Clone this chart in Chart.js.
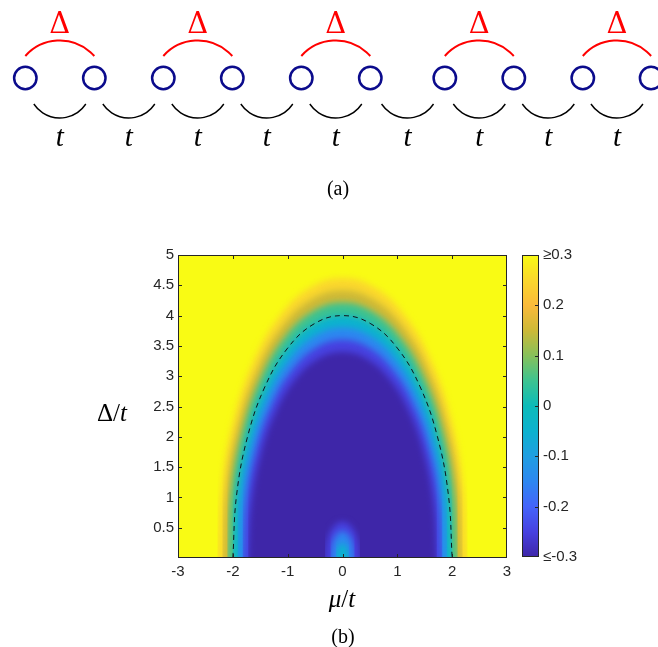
<!DOCTYPE html>
<html>
<head>
<meta charset="utf-8">
<script src="https://cdn.jsdelivr.net/npm/chart.js@4.4.1/dist/chart.umd.min.js"></script>
<style>
  html, body { margin: 0; padding: 0; background: #fff; }
  body { width: 658px; height: 647px; position: relative; overflow: hidden; }
  canvas { position: absolute; }
  .lbl { position: absolute; transform: translate(-50%, -50%); font-family: "Liberation Serif", "DejaVu Serif", serif; line-height: 1; white-space: nowrap; color: #000; }
</style>
</head>
<body>
<canvas id="chain" width="658" height="178" style="left:0;top:0"></canvas>
<div class="lbl" style="left:338px;top:188px;font-size:20px">(a)</div>
<canvas id="phase" width="520" height="400" style="left:0;top:200px"></canvas>
<canvas id="cbar" width="100" height="330" style="left:515px;top:240px"></canvas>
<div class="lbl" style="left:112px;top:412px;font-size:25px">Δ/<i>t</i></div>
<div class="lbl" style="left:342px;top:598px;font-size:25px"><i>μ</i>/<i>t</i></div>
<div class="lbl" style="left:343px;top:636px;font-size:20px">(b)</div>
<script>
// (a) chain : site positions (lattice units), Δ pairs and t bonds
var siteX = [0, 1, 2, 3, 4, 5, 6.08, 7.08, 8.08, 9.07];
var pairBonds = [[0, 1], [2, 3], [4, 5], [6, 7], [8, 9]];
var hopBonds = [[0, 1], [1, 2], [2, 3], [3, 4], [4, 5], [5, 6], [6, 7], [7, 8], [8, 9]];
var pairLabel = 'Δ';
var hopLabel = 't';

// (b) phase map axes
var xTicks = [-3, -2, -1, 0, 1, 2, 3];
var yTicks = [0.5, 1, 1.5, 2, 2.5, 3, 3.5, 4, 4.5, 5];
var cLimits = [-0.3, 0.3];
var cbarTicks = [-0.3, -0.2, -0.1, 0, 0.1, 0.2, 0.3];
var cbarLabels = ['≤-0.3', '-0.2', '-0.1', '0', '0.1', '0.2', '≥0.3'];

// contours of the map, right half only [mu/t, Delta/t]
var domeLevels = [0.3, 0.2, 0.1, 0, -0.1, -0.2, -0.3];
var domeContours = [
  [[2.28, 0], [2.202, 1.196], [1.975, 2.31], [1.612, 3.267], [1.14, 4.001], [0.59, 4.462], [0, 4.62]],
  [[2.19, 0], [2.115, 1.144], [1.897, 2.21], [1.549, 3.125], [1.095, 3.828], [0.567, 4.269], [0, 4.42]],
  [[2.1, 0], [2.028, 1.09], [1.819, 2.105], [1.485, 2.977], [1.05, 3.646], [0.543, 4.067], [0, 4.21]],
  [[2, 0], [1.932, 1.035], [1.732, 2], [1.414, 2.828], [1, 3.464], [0.518, 3.864], [0, 4]],
  [[1.91, 0], [1.845, 0.983], [1.654, 1.9], [1.351, 2.687], [0.955, 3.291], [0.494, 3.67], [0, 3.8]],
  [[1.82, 0], [1.758, 0.932], [1.576, 1.8], [1.287, 2.546], [0.91, 3.118], [0.471, 3.477], [0, 3.6]],
  [[1.72, 0], [1.661, 0.88], [1.49, 1.7], [1.216, 2.404], [0.86, 2.944], [0.445, 3.284], [0, 3.4]]
];
var bumpLevels = [-0.3, -0.2, -0.1];
var bumpContours = [
  [[0.32, 0], [0.277, 0.3], [0.16, 0.52], [0, 0.6]],
  [[0.22, 0], [0.19, 0.22], [0.11, 0.381], [0, 0.44]],
  [[0.12, 0], [0.104, 0.12], [0.06, 0.208], [0, 0.24]]
];
// dashed line
var phaseBoundary = [[2, 0], [1.932, 1.035], [1.732, 2], [1.414, 2.828], [1, 3.464], [0.518, 3.864], [0, 4]];

// colormap (parula-like), position 0..1 over cLimits
var parula = [
  [0.000, [62, 38, 168]], [0.083, [71, 65, 224]], [0.167, [68, 100, 250]],
  [0.250, [45, 135, 240]], [0.333, [32, 158, 225]], [0.417, [12, 178, 207]],
  [0.500, [12, 187, 185]], [0.583, [60, 195, 145]], [0.667, [135, 193, 90]],
  [0.750, [205, 185, 55]], [0.833, [250, 186, 58]], [0.917, [250, 215, 45]],
  [1.000, [249, 251, 20]]
];
function rgb(c) { return 'rgb(' + c.map(Math.round).join(',') + ')'; }
function cmap(v) {
  var t = (v - cLimits[0]) / (cLimits[1] - cLimits[0]);
  t = Math.max(0, Math.min(1, t));
  for (var i = 1; i < parula.length; i++) {
    if (t <= parula[i][0]) {
      var a = parula[i - 1], b = parula[i], f = (t - a[0]) / (b[0] - a[0]);
      return rgb(a[1].map(function (c, k) { return c + (b[1][k] - c) * f; }));
    }
  }
  return rgb(parula[parula.length - 1][1]);
}

// mirror half contour -> path from left foot over the top to right foot
function closeDome(half) {
  var left = half.map(function (p) { return {x: -p[0], y: p[1]}; });
  var right = half.slice(0, -1).reverse().map(function (p) { return {x: p[0], y: p[1]}; });
  return left.concat(right);
}

var axisColor = '#262626';
var tickFont = {family: '"Liberation Sans", Arial, sans-serif', size: 15};

// ---------- (a) ----------
function arcThrough(ctx, x0, x1, yEnd, yApex) {
  var w = x1 - x0, h = yEnd - yApex;
  var R = (w * w / 4 + h * h) / (2 * Math.abs(h));
  var cx = (x0 + x1) / 2;
  var a = Math.asin(w / 2 / R);
  ctx.beginPath();
  if (h > 0) ctx.arc(cx, yApex + R, R, -Math.PI / 2 - a, -Math.PI / 2 + a);
  else ctx.arc(cx, yApex - R, R, Math.PI / 2 - a, Math.PI / 2 + a);
  ctx.stroke();
}

var bondPlugin = {
  id: 'bonds',
  afterDatasetsDraw: function (chart) {
    var ctx = chart.ctx, xs = chart.scales.x, ys = chart.scales.y;
    ctx.save();
    ctx.textAlign = 'center';
    ctx.textBaseline = 'alphabetic';
    // pairing above
    ctx.strokeStyle = '#ff0000';
    ctx.fillStyle = '#ff0000';
    ctx.lineWidth = 2;
    ctx.font = '29px "DejaVu Serif"';
    pairBonds.forEach(function (b) {
      var x0 = xs.getPixelForValue(siteX[b[0]]), x1 = xs.getPixelForValue(siteX[b[1]]);
      arcThrough(ctx, x0, x1, ys.getPixelForValue(0.44), ys.getPixelForValue(0.75));
      ctx.fillText(pairLabel, (x0 + x1) / 2, ys.getPixelForValue(0.894));
    });
    // hopping below
    ctx.strokeStyle = '#000';
    ctx.fillStyle = '#000';
    ctx.lineWidth = 1.4;
    ctx.font = 'italic 29px "Liberation Serif"';
    hopBonds.forEach(function (b) {
      var mid = (xs.getPixelForValue(siteX[b[0]]) + xs.getPixelForValue(siteX[b[1]])) / 2;
      arcThrough(ctx, mid - 26, mid + 26, ys.getPixelForValue(-0.52), ys.getPixelForValue(-0.8));
      ctx.fillText(hopLabel, mid, ys.getPixelForValue(-1.36));
    });
    ctx.restore();
  }
};

new Chart(document.getElementById('chain'), {
  type: 'scatter',
  data: {
    datasets: [{
      data: siteX.map(function (x) { return {x: x, y: 0}; }),
      pointRadius: 11.2,
      pointHoverRadius: 11.2,
      pointBorderWidth: 2.5,
      pointBorderColor: '#0b0b8c',
      pointBackgroundColor: 'rgba(0,0,0,0)'
    }]
  },
  options: {
    responsive: false,
    animation: false,
    events: [],
    layout: {padding: 0, autoPadding: false},
    plugins: {legend: {display: false}, tooltip: {enabled: false}},
    scales: {
      x: {type: 'linear', display: false, min: -0.367, max: 9.17},
      y: {display: false, min: -2.0, max: 1.56}
    }
  },
  plugins: [bondPlugin]
});

// ---------- (b) ----------
function drawFrame(chart, axisX, axisY, sides) {
  var a = chart.chartArea, ctx = chart.ctx, len = 4;
  ctx.save();
  ctx.strokeStyle = axisColor;
  ctx.lineWidth = 1;
  ctx.strokeRect(a.left + 0.5, a.top + 0.5, a.right - a.left - 1, a.bottom - a.top - 1);
  ctx.beginPath();
  if (axisX) {
    chart.scales.x.ticks.forEach(function (t) {
      var p = Math.round(chart.scales.x.getPixelForValue(t.value)) + 0.5;
      if (p <= a.left + 1 || p >= a.right - 1) return;
      ctx.moveTo(p, a.bottom); ctx.lineTo(p, a.bottom - len);
      ctx.moveTo(p, a.top); ctx.lineTo(p, a.top + len);
    });
  }
  if (axisY) {
    chart.scales.y.ticks.forEach(function (t) {
      var p = Math.round(chart.scales.y.getPixelForValue(t.value)) + 0.5;
      if (p <= a.top + 1 || p >= a.bottom - 1) return;
      if (sides.left) { ctx.moveTo(a.left, p); ctx.lineTo(a.left + len, p); }
      if (sides.right) { ctx.moveTo(a.right, p); ctx.lineTo(a.right - len, p); }
    });
  }
  ctx.stroke();
  ctx.restore();
}

var datasets = [];
domeLevels.forEach(function (lev, i) {
  datasets.push({
    label: 'dome ' + lev,
    data: closeDome(domeContours[i]),
    backgroundColor: cmap(Math.max(lev - 0.05, cLimits[0])),
    fill: {value: -1},
    order: 100 - i
  });
});
bumpLevels.forEach(function (lev, i) {
  datasets.push({
    label: 'bump ' + lev,
    data: closeDome(bumpContours[i]),
    backgroundColor: cmap(lev + 0.05),
    fill: {value: -1},
    order: 50 - i
  });
});
datasets.push({
  label: 'boundary',
  data: closeDome(phaseBoundary),
  fill: false,
  borderColor: 'rgba(15,20,25,1)',
  borderWidth: 1,
  borderDash: [5, 4],
  order: 0
});
datasets.forEach(function (d) {
  d.showLine = true;
  d.pointRadius = 0;
  d.pointHoverRadius = 0;
  d.tension = 0.4;
  d.clip = 0;
  if (d.label !== 'boundary') { d.borderWidth = 0; d.borderColor = 'rgba(0,0,0,0)'; }
});

var mapPlugin = {
  id: 'map',
  beforeDatasetsDraw: function (chart) {
    var a = chart.chartArea, ctx = chart.ctx;
    ctx.fillStyle = cmap(cLimits[1]);
    ctx.fillRect(a.left, a.top, a.right - a.left, a.bottom - a.top);
    ctx.filter = 'blur(3px)';
  },
  beforeDatasetDraw: function (chart, args) {
    if (chart.data.datasets[args.index].label === 'boundary') chart.ctx.filter = 'none';
  },
  afterDatasetsDraw: function (chart) {
    chart.ctx.filter = 'none';
    drawFrame(chart, true, true, {left: true, right: true});
  }
};

new Chart(document.getElementById('phase'), {
  type: 'scatter',
  data: {datasets: datasets},
  options: {
    responsive: false,
    animation: false,
    events: [],
    layout: {padding: {top: 55, right: 13, bottom: 0, left: 0}, autoPadding: false},
    elements: {line: {capBezierPoints: false}},
    plugins: {legend: {display: false}, tooltip: {enabled: false}},
    scales: {
      x: {
        type: 'linear', min: -3, max: 3,
        grid: {display: false, drawTicks: false},
        border: {display: false},
        afterBuildTicks: function (s) { s.ticks = xTicks.map(function (v) { return {value: v}; }); },
        afterFit: function (s) { s.height = 42; },
        ticks: {color: axisColor, font: tickFont, padding: 5, maxRotation: 0, autoSkip: false,
          callback: function (v) { return String(v); }}
      },
      y: {
        type: 'linear', min: 0, max: 5,
        grid: {display: false, drawTicks: false},
        border: {display: false},
        afterBuildTicks: function (s) { s.ticks = yTicks.map(function (v) { return {value: v}; }); },
        afterFit: function (s) { s.width = 178; },
        ticks: {color: axisColor, font: tickFont, padding: 4, autoSkip: false,
          callback: function (v) { return String(v); }}
      }
    }
  },
  plugins: [mapPlugin]
});

// colorbar
var cbarPlugin = {
  id: 'cbarFrame',
  afterDatasetsDraw: function (chart) {
    drawFrame(chart, false, true, {left: false, right: true});
  }
};

new Chart(document.getElementById('cbar'), {
  type: 'bar',
  data: {
    labels: [''],
    datasets: [{
      data: [cLimits],
      barPercentage: 1,
      categoryPercentage: 1,
      borderWidth: 0,
      backgroundColor: function (c) {
        var a = c.chart.chartArea;
        if (!a) return 'rgba(0,0,0,0)';
        var g = c.chart.ctx.createLinearGradient(0, a.bottom, 0, a.top);
        parula.forEach(function (s) { g.addColorStop(s[0], rgb(s[1])); });
        return g;
      }
    }]
  },
  options: {
    responsive: false,
    animation: false,
    events: [],
    layout: {padding: {top: 15, right: 0, bottom: 13, left: 7}, autoPadding: false},
    plugins: {legend: {display: false}, tooltip: {enabled: false}},
    scales: {
      x: {display: false},
      y: {
        position: 'right', min: cLimits[0], max: cLimits[1],
        grid: {display: false, drawTicks: false},
        border: {display: false},
        afterBuildTicks: function (s) { s.ticks = cbarTicks.map(function (v) { return {value: v}; }); },
        afterFit: function (s) { s.width = 76; },
        ticks: {color: axisColor, font: tickFont, padding: 4, autoSkip: false,
          callback: function (v, i) { return cbarLabels[i]; }}
      }
    }
  },
  plugins: [cbarPlugin]
});
</script>
</body>
</html>
